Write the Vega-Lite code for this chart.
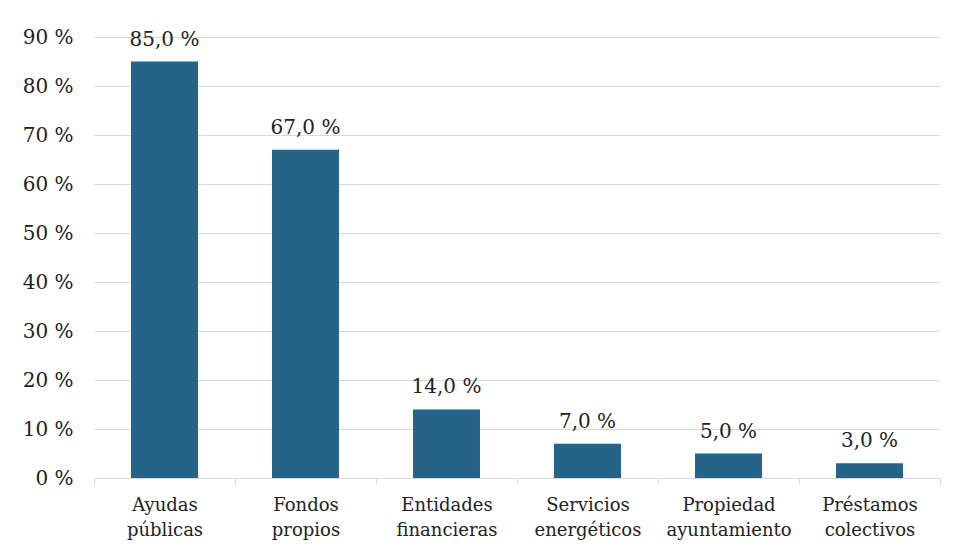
{
  "$schema": "https://vega.github.io/schema/vega-lite/v6.json",
  "width": 846,
  "height": 441,
  "autosize": {"type": "none"},
  "padding": {"left": 94, "top": 37, "right": 27, "bottom": 78},
  "background": "white",
  "config": {
    "view": {"stroke": null},
    "font": "DejaVu Serif"
  },
  "data": {
    "values": [
      {"categoria": "Ayudas públicas", "valor": 85},
      {"categoria": "Fondos propios", "valor": 67},
      {"categoria": "Entidades financieras", "valor": 14},
      {"categoria": "Servicios energéticos", "valor": 7},
      {"categoria": "Propiedad ayuntamiento", "valor": 5},
      {"categoria": "Préstamos colectivos", "valor": 3}
    ]
  },
  "encoding": {
    "x": {
      "field": "categoria",
      "type": "nominal",
      "sort": null,
      "scale": {"paddingInner": 0, "paddingOuter": 0},
      "axis": {
        "title": null,
        "labelAngle": 0,
        "labelExpr": "split(datum.label, ' ')",
        "labelFont": "DejaVu Serif",
        "labelFontSize": 18,
        "labelColor": "#222222",
        "labelLineHeight": 25,
        "labelPadding": 12,
        "tickBand": "extent",
        "tickSize": 6,
        "tickColor": "#d9d9d9",
        "domainColor": "#d9d9d9",
        "grid": false
      }
    },
    "y": {
      "field": "valor",
      "type": "quantitative",
      "scale": {"domain": [0, 90], "nice": false},
      "axis": {
        "title": null,
        "values": [0, 10, 20, 30, 40, 50, 60, 70, 80, 90],
        "labelExpr": "datum.value + ' %'",
        "labelFont": "DejaVu Serif",
        "labelFontSize": 20,
        "labelColor": "#222222",
        "labelPadding": 21,
        "ticks": false,
        "domain": false,
        "grid": true,
        "gridColor": "#d9d9d9",
        "gridWidth": 1
      }
    }
  },
  "layer": [
    {
      "mark": {"type": "bar", "color": "#256488", "width": {"band": 0.475}}
    },
    {
      "transform": [
        {"calculate": "replace(format(datum.valor, '.1f'), '.', ',') + ' %'", "as": "etiqueta"}
      ],
      "mark": {
        "type": "text",
        "font": "DejaVu Serif",
        "fontSize": 20,
        "color": "#222222",
        "baseline": "alphabetic",
        "dy": -16
      },
      "encoding": {
        "text": {"field": "etiqueta", "type": "nominal"}
      }
    }
  ]
}
